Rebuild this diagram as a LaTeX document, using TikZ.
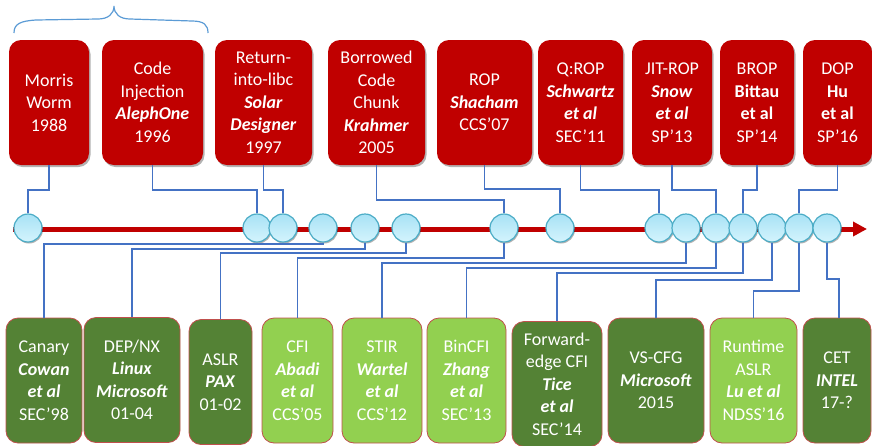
\documentclass[tikz,border=0pt]{standalone}
\usepackage{fontspec}
\setmainfont{Carlito}
\usetikzlibrary{arrows.meta,shadows}

\definecolor{attackred}{RGB}{192,0,0}
\definecolor{defdark}{RGB}{84,130,53}
\definecolor{deflight}{RGB}{146,208,80}
\definecolor{defedge}{RGB}{192,80,77}
\definecolor{wirecol}{RGB}{68,114,196}
\definecolor{bracecol}{RGB}{91,155,213}
\definecolor{dotedge}{RGB}{75,172,198}
\definecolor{dottop}{RGB}{168,226,245}
\definecolor{dotbot}{RGB}{212,244,253}

\newcommand{\bi}[1]{\textbf{\textit{#1}}}

\begin{document}
\begin{tikzpicture}[x=1pt,y=-1pt,
  txt/.style={text=white, align=center, inner sep=0pt,
    font=\fontsize{18}{22.5}\selectfont},
  attack/.style={txt, fill=attackred, rounded corners=12pt,
    minimum height=125pt,
    drop shadow={shadow xshift=1.5pt, shadow yshift=-2pt, opacity=0.3, fill=black}},
  defense/.style={txt, draw=defedge, line width=0.8pt, rounded corners=12pt,
    minimum height=125pt},
  olddef/.style={defense, fill=defdark},
  newdef/.style={defense, fill=deflight},
  dot/.style={circle, minimum size=28pt, inner sep=0pt, draw=dotedge,
    line width=1.2pt, top color=dottop, bottom color=dotbot,
    drop shadow={shadow xshift=1pt, shadow yshift=-1.5pt, opacity=0.3, fill=black}},
  wire/.style={draw=wirecol, line width=1.3pt},
  timeline/.style={draw=attackred, line width=5pt,
    -{Triangle[length=14pt,width=14pt]}},
  bracket/.style={draw=bracecol, line width=1.2pt}
]
\useasboundingbox (0,0) rectangle (872,445);

% brace over the first two attacks
\draw[bracket] (14,33) .. controls (14,24) and (20,21) .. (36,20) -- (98,19)
  .. controls (108,19) and (114,14) .. (114,6)
  .. controls (114,14) and (120,19) .. (130,19) -- (192,21)
  .. controls (204,21) and (208,25) .. (208,33);

% attacks
\node[attack, minimum width=80pt]  (t1) at (49,102.5)  {Morris\\Worm\\1988};
\node[attack, minimum width=101pt] (t2) at (152.5,102.5) {Code\\Injection\\\bi{AlephOne}\\1996};
\node[attack, minimum width=97pt]  (t3) at (263.5,102.5) {Return-\\into-libc\\\bi{Solar}\\\bi{Designer}\\1997};
\node[attack, minimum width=97pt]  (t4) at (376.5,102.5) {Borrowed\\Code\\Chunk\\\bi{Krahmer}\\2005};
\node[attack, minimum width=95pt]  (t5) at (484.5,102.5) {ROP\\\bi{Shacham}\\CCS’07};
\node[attack, minimum width=85pt]  (t6) at (580.5,102.5) {Q:ROP\\\bi{Schwartz}\\\bi{et al}\\SEC’11};
\node[attack, minimum width=80pt]  (t7) at (672,102.5)   {JIT-ROP\\\bi{Snow}\\\bi{et al}\\SP’13};
\node[attack, minimum width=74pt]  (t8) at (757,102.5)   {BROP\\\textbf{Bittau}\\\textbf{et al}\\SP’14};
\node[attack, minimum width=69pt]  (t9) at (837.5,102.5) {DOP\\\textbf{Hu}\\\textbf{et al}\\SP’16};

% defenses
\node[olddef, minimum width=76pt] (b1) at (44,380.5)    {Canary\\\bi{Cowan}\\\bi{et al}\\SEC’98};
\node[olddef, minimum width=96pt] (b2) at (132,380)     {DEP/NX\\\bi{Linux}\\\bi{Microsoft}\\01-04};
\node[olddef, minimum width=63pt] (b3) at (220.5,382)   {ASLR\\\bi{PAX}\\01-02};
\node[newdef, minimum width=71pt] (b4) at (297.5,380.5) {CFI\\\bi{Abadi}\\\bi{et al}\\CCS’05};
\node[newdef, minimum width=80pt] (b5) at (382,380.5)   {STIR\\\bi{Wartel}\\\bi{et al}\\CCS’12};
\node[newdef, minimum width=79pt] (b6) at (466.5,380.5) {BinCFI\\\bi{Zhang}\\\bi{et al}\\SEC’13};
\node[olddef, minimum width=90pt] (b7) at (557,384)     {Forward-\\edge CFI\\\bi{Tice}\\\bi{et al}\\SEC’14};
\node[olddef, minimum width=96pt] (b8) at (656,380.5)   {VS-CFG\\\bi{Microsoft}\\2015};
\node[newdef, minimum width=87pt] (b9) at (753.5,380.5) {Runtime\\ASLR\\\bi{Lu et al}\\NDSS’16};
\node[olddef, minimum width=68pt] (b10) at (837,380.5)  {CET\\\bi{INTEL}\\17-?};

% time axis
\coordinate (tl0) at (13,229);
\coordinate (tl1) at (867,229);
\draw[timeline] (tl0) -- (tl1);

% events on the axis
\foreach \n/\x in {1/28, 2/257, 3/283, 4/323, 5/365, 6/406, 7/504, 8/560,
                   9/659, 10/686, 11/716, 12/743, 13/772, 14/799, 15/827}
  \node[dot] (c\n) at (\x,228) {};

% attacks to the axis
\draw[wire] (t1.south) -- (t1.south |- 0,190) -| (c1.north);
\draw[wire] (t2.south) -- (t2.south |- 0,190) -| (c2.north);
\draw[wire] (t3.south) -- (t3.south |- 0,190) -| (c3.north);
\draw[wire] (t4.south) -- (t4.south |- 0,200) -| (c7.north);
\draw[wire] (t5.south) -- (t5.south |- 0,189) -| (c8.north);
\draw[wire] (t6.south) -- (t6.south |- 0,190) -| (c9.north);
\draw[wire] (t7.south) -- (t7.south |- 0,190) -| (c11.north);
\draw[wire] (t8.south) -- (t8.south |- 0,190) -| (c12.north);
\draw[wire] (t9.south) -- (t9.south |- 0,190) -| (c14.north);

% axis to the defenses
\draw[wire] (c4.south)  -- (c4.south  |- 0,244) -| (b1.north);
\draw[wire] (c5.south)  -- (c5.south  |- 0,249) -| (b2.north);
\draw[wire] (c6.south)  -- (c6.south  |- 0,253) -| (b3.north);
\draw[wire] (c7.south)  -- (c7.south  |- 0,258) -| (b4.north);
\draw[wire] (c10.south) -- (c10.south |- 0,263) -| (b5.north);
\draw[wire] (c11.south) -- (c11.south |- 0,268) -| (b6.north);
\draw[wire] (c12.south) -- (c12.south |- 0,273) -| (b7.north);
\draw[wire] (c13.south) -- (c13.south |- 0,280) -| (b8.north);
\draw[wire] (c14.south) -- (c14.south |- 0,291) -| (b9.north);
\draw[wire] (c15.south) -- (c15.south |- 0,279) -| ([xshift=2pt]b10.north);
\end{tikzpicture}
\end{document}
